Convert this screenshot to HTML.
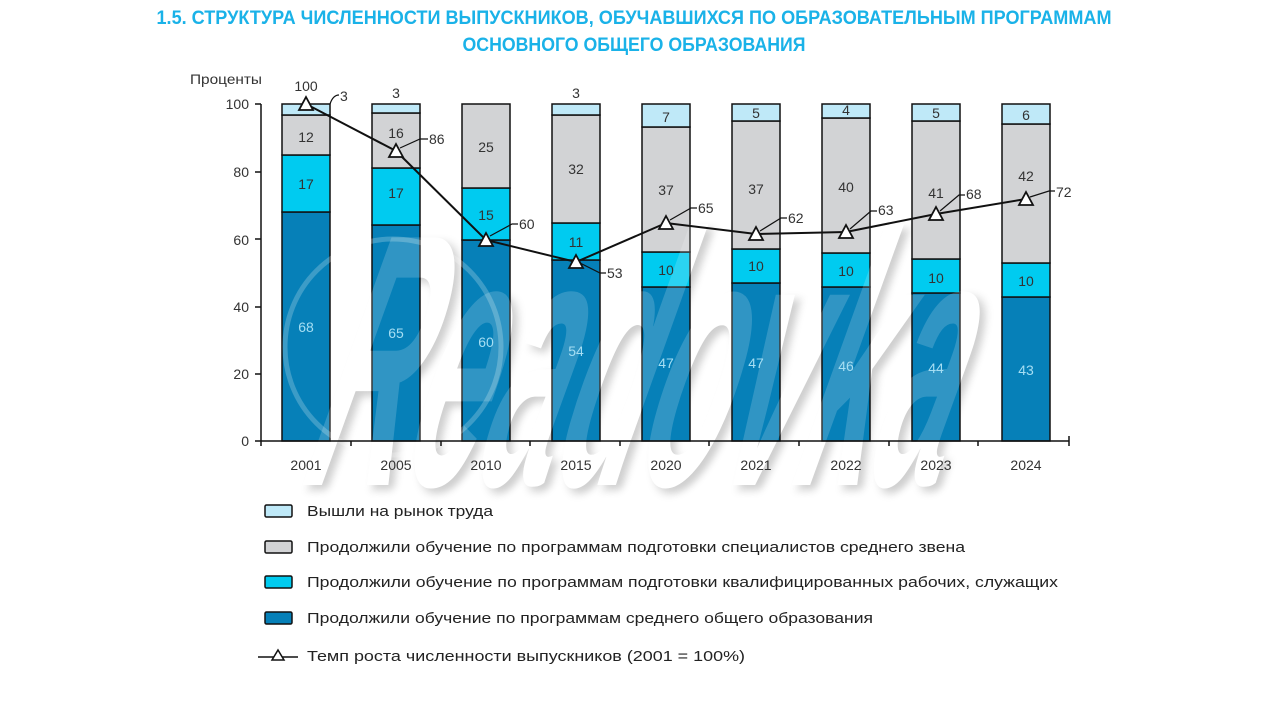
<!DOCTYPE html>
<html><head><meta charset="utf-8">
<style>
html,body{margin:0;padding:0;background:#fff;}
svg{display:block;}
.n{font-family:"Liberation Sans Narrow","Liberation Sans",sans-serif;}
.w{font-family:"Liberation Sans",sans-serif;font-weight:bold;font-style:italic;}
</style></head>
<body>
<svg width="1280" height="720" viewBox="0 0 1280 720" xmlns="http://www.w3.org/2000/svg">
<defs>
<filter id="sh" x="-10%" y="-20%" width="130%" height="140%">
<feGaussianBlur stdDeviation="4"/>
</filter>
</defs>
<!-- Title -->
<text class="n" x="634" y="24" text-anchor="middle" font-size="19" font-weight="bold" fill="#1ab2e8" textLength="955" lengthAdjust="spacingAndGlyphs">1.5. СТРУКТУРА ЧИСЛЕННОСТИ ВЫПУСКНИКОВ, ОБУЧАВШИХСЯ ПО ОБРАЗОВАТЕЛЬНЫМ ПРОГРАММАМ</text>
<text class="n" x="634" y="51" text-anchor="middle" font-size="19" font-weight="bold" fill="#1ab2e8" textLength="343" lengthAdjust="spacingAndGlyphs">ОСНОВНОГО ОБЩЕГО ОБРАЗОВАНИЯ</text>

<!-- Watermark base (shadow + white body, under bars) -->
<g transform="translate(0,485) skewX(-16) translate(0,-485)">
<g transform="translate(7,5)" opacity="0.28" filter="url(#sh)">
<text class="w" x="300" y="485" font-size="360" fill="#555" textLength="640" lengthAdjust="spacingAndGlyphs">Readovka</text>
</g>
<text class="w" x="300" y="485" font-size="360" fill="#ffffff" textLength="640" lengthAdjust="spacingAndGlyphs">Readovka</text>
</g>

<!-- y axis label -->
<text class="n" x="190" y="84" font-size="14" fill="#333" textLength="72" lengthAdjust="spacingAndGlyphs">Проценты</text>

<g class="n" font-size="14" fill="#333" text-anchor="end">
<text x="249" y="109">100</text>
<text x="249" y="177">80</text>
<text x="249" y="245">60</text>
<text x="249" y="312">40</text>
<text x="249" y="379">20</text>
<text x="249" y="446">0</text>
</g>
<g stroke="#111" stroke-width="1.5">
<line x1="261" y1="104" x2="261" y2="446"/>
<line x1="255" y1="104" x2="261" y2="104"/>
<line x1="255" y1="172" x2="261" y2="172"/>
<line x1="255" y1="239" x2="261" y2="239"/>
<line x1="255" y1="307" x2="261" y2="307"/>
<line x1="255" y1="374" x2="261" y2="374"/>
<line x1="255" y1="441" x2="261" y2="441"/>
</g>

<!-- Bars -->
<g stroke="#111" stroke-width="1.5">
<rect x="282" y="212" width="48" height="229" fill="#0680b8"/>
<rect x="282" y="155" width="48" height="57" fill="#00cbf0"/>
<rect x="282" y="115" width="48" height="40" fill="#d2d3d5"/>
<rect x="282" y="104" width="48" height="11" fill="#bfe9f8"/>
<rect x="372" y="225" width="48" height="216" fill="#0680b8"/>
<rect x="372" y="168" width="48" height="57" fill="#00cbf0"/>
<rect x="372" y="113" width="48" height="55" fill="#d2d3d5"/>
<rect x="372" y="104" width="48" height="9" fill="#bfe9f8"/>
<rect x="462" y="240" width="48" height="201" fill="#0680b8"/>
<rect x="462" y="188" width="48" height="52" fill="#00cbf0"/>
<rect x="462" y="104" width="48" height="84" fill="#d2d3d5"/>
<rect x="552" y="260" width="48" height="181" fill="#0680b8"/>
<rect x="552" y="223" width="48" height="37" fill="#00cbf0"/>
<rect x="552" y="115" width="48" height="108" fill="#d2d3d5"/>
<rect x="552" y="104" width="48" height="11" fill="#bfe9f8"/>
<rect x="642" y="287" width="48" height="154" fill="#0680b8"/>
<rect x="642" y="252" width="48" height="35" fill="#00cbf0"/>
<rect x="642" y="127" width="48" height="125" fill="#d2d3d5"/>
<rect x="642" y="104" width="48" height="23" fill="#bfe9f8"/>
<rect x="732" y="283" width="48" height="158" fill="#0680b8"/>
<rect x="732" y="249" width="48" height="34" fill="#00cbf0"/>
<rect x="732" y="121" width="48" height="128" fill="#d2d3d5"/>
<rect x="732" y="104" width="48" height="17" fill="#bfe9f8"/>
<rect x="822" y="287" width="48" height="154" fill="#0680b8"/>
<rect x="822" y="253" width="48" height="34" fill="#00cbf0"/>
<rect x="822" y="118" width="48" height="135" fill="#d2d3d5"/>
<rect x="822" y="104" width="48" height="14" fill="#bfe9f8"/>
<rect x="912" y="293" width="48" height="148" fill="#0680b8"/>
<rect x="912" y="259" width="48" height="34" fill="#00cbf0"/>
<rect x="912" y="121" width="48" height="138" fill="#d2d3d5"/>
<rect x="912" y="104" width="48" height="17" fill="#bfe9f8"/>
<rect x="1002" y="297" width="48" height="144" fill="#0680b8"/>
<rect x="1002" y="263" width="48" height="34" fill="#00cbf0"/>
<rect x="1002" y="124" width="48" height="139" fill="#d2d3d5"/>
<rect x="1002" y="104" width="48" height="20" fill="#bfe9f8"/>
</g>

<!-- Watermark overlay (faint, over bars) -->
<circle cx="393" cy="347" r="108" fill="none" stroke="#ffffff" stroke-width="5" opacity="0.22"/>
<g transform="translate(0,485) skewX(-16) translate(0,-485)" opacity="0.17">
<text class="w" x="300" y="485" font-size="360" fill="#ffffff" textLength="640" lengthAdjust="spacingAndGlyphs">Readovka</text>
</g>

<!-- x axis -->
<g stroke="#111" stroke-width="1.5">
<line x1="261" y1="441" x2="1069" y2="441"/>
<line x1="351" y1="441" x2="351" y2="446"/>
<line x1="441" y1="441" x2="441" y2="446"/>
<line x1="530" y1="441" x2="530" y2="446"/>
<line x1="620" y1="441" x2="620" y2="446"/>
<line x1="709" y1="441" x2="709" y2="446"/>
<line x1="799" y1="441" x2="799" y2="446"/>
<line x1="889" y1="441" x2="889" y2="446"/>
<line x1="978" y1="441" x2="978" y2="446"/>
<line x1="1069" y1="436" x2="1069" y2="446"/>
</g>
<g class="n" font-size="14" fill="#333" text-anchor="middle">
<text x="306" y="470">2001</text>
<text x="396" y="470">2005</text>
<text x="486" y="470">2010</text>
<text x="576" y="470">2015</text>
<text x="666" y="470">2020</text>
<text x="756" y="470">2021</text>
<text x="846" y="470">2022</text>
<text x="936" y="470">2023</text>
<text x="1026" y="470">2024</text>
</g>

<!-- Dark segment labels -->
<g class="n" font-size="14" fill="#a6def3" text-anchor="middle">
<text x="306" y="332">68</text>
<text x="396" y="338">65</text>
<text x="486" y="347">60</text>
<text x="576" y="356">54</text>
<text x="666" y="368">47</text>
<text x="756" y="368">47</text>
<text x="846" y="371">46</text>
<text x="936" y="373">44</text>
<text x="1026" y="375">43</text>
</g>
<g class="n" font-size="14" fill="#333" text-anchor="middle">
<text x="306" y="189">17</text>
<text x="396" y="198">17</text>
<text x="486" y="220">15</text>
<text x="576" y="247">11</text>
<text x="666" y="275">10</text>
<text x="756" y="271">10</text>
<text x="846" y="276">10</text>
<text x="936" y="283">10</text>
<text x="1026" y="286">10</text>
<text x="306" y="142">12</text>
<text x="396" y="138">16</text>
<text x="486" y="152">25</text>
<text x="576" y="174">32</text>
<text x="666" y="195">37</text>
<text x="756" y="194">37</text>
<text x="846" y="192">40</text>
<text x="936" y="198">41</text>
<text x="1026" y="181">42</text>
<text x="666" y="122">7</text>
<text x="756" y="118">5</text>
<text x="846" y="115">4</text>
<text x="936" y="118">5</text>
<text x="1026" y="120">6</text>
<text x="396" y="98">3</text>
<text x="576" y="98">3</text>
</g>

<!-- Line series -->
<polyline points="306,104 396,151 486,240 576,262 666,223 756,234 846,232 936,214 1026,199" fill="none" stroke="#111" stroke-width="2"/>
<g stroke="#111" stroke-width="1.2" fill="none">
<path d="M330,104 Q333,95 339,95"/>
<path d="M400,148 L420,139 L428,139"/>
<path d="M490,236 L512,224 L518,224"/>
<path d="M580,263 L600,273 L606,273"/>
<path d="M670,220 L691,208 L697,208"/>
<path d="M760,231 L781,218 L787,218"/>
<path d="M850,229 L871,211 L877,211"/>
<path d="M940,211 L959,195 L965,195"/>
<path d="M1030,197 L1049,191 L1055,191"/>
</g>
<g fill="#fff" stroke="#111" stroke-width="1.8">
<polygon points="306,97 313,110 299,110"/>
<polygon points="396,144 403,157 389,157"/>
<polygon points="486,233 493,246 479,246"/>
<polygon points="576,255 583,268 569,268"/>
<polygon points="666,216 673,229 659,229"/>
<polygon points="756,227 763,240 749,240"/>
<polygon points="846,225 853,238 839,238"/>
<polygon points="936,207 943,220 929,220"/>
<polygon points="1026,192 1033,205 1019,205"/>
</g>
<g class="n" font-size="14" fill="#333">
<text x="306" y="91" text-anchor="middle">100</text>
<text x="340" y="101">3</text>
<text x="429" y="144">86</text>
<text x="519" y="229">60</text>
<text x="607" y="278">53</text>
<text x="698" y="213">65</text>
<text x="788" y="223">62</text>
<text x="878" y="215">63</text>
<text x="966" y="199">68</text>
<text x="1056" y="197">72</text>
</g>

<!-- Legend -->
<g stroke="#111" stroke-width="1.5">
<rect x="265" y="505" width="27" height="12" rx="1.5" fill="#bfe9f8"/>
<rect x="265" y="541" width="27" height="12" rx="1.5" fill="#d2d3d5"/>
<rect x="265" y="576" width="27" height="12" rx="1.5" fill="#00cbf0"/>
<rect x="265" y="612" width="27" height="12" rx="1.5" fill="#0680b8"/>
<line x1="258" y1="657" x2="298" y2="657"/>
</g>
<polygon points="278,650 284,660 272,660" fill="#fff" stroke="#111" stroke-width="1.5"/>
<g class="n" font-size="15" fill="#222">
<text x="307" y="516" textLength="186" lengthAdjust="spacingAndGlyphs">Вышли на рынок труда</text>
<text x="307" y="552" textLength="658" lengthAdjust="spacingAndGlyphs">Продолжили обучение по программам подготовки специалистов среднего звена</text>
<text x="307" y="587" textLength="751" lengthAdjust="spacingAndGlyphs">Продолжили обучение по программам подготовки квалифицированных рабочих, служащих</text>
<text x="307" y="623" textLength="566" lengthAdjust="spacingAndGlyphs">Продолжили обучение по программам среднего общего образования</text>
<text x="307" y="661" textLength="438" lengthAdjust="spacingAndGlyphs">Темп роста численности выпускников (2001 = 100%)</text>
</g>
</svg>
</body></html>
